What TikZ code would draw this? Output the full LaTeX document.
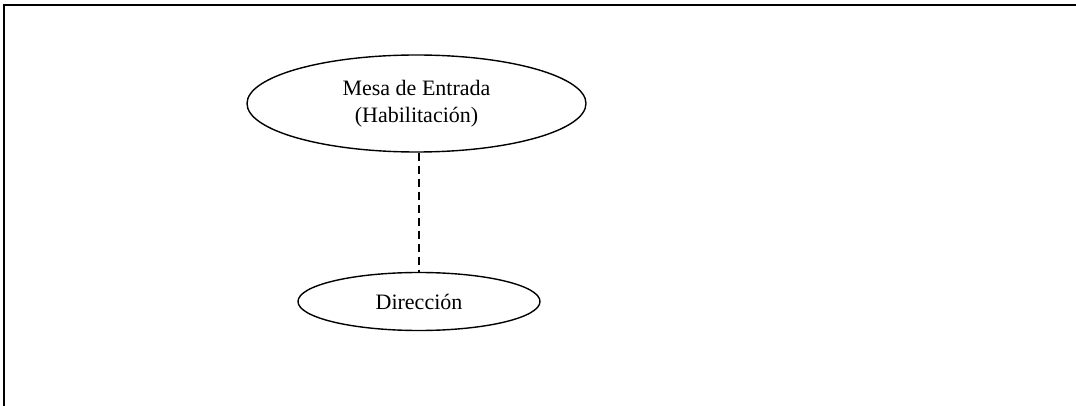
\documentclass[tikz,border=0pt]{standalone}
\usepackage{fontspec}
\setmainfont{Liberation Serif}
\usetikzlibrary{positioning,shapes.geometric}

\begin{document}
\begin{tikzpicture}[
  x=0.5pt, y=-0.5pt,
  office/.style={draw, ellipse, inner sep=0pt, line width=0.7pt, align=center, font=\fontsize{11}{13.5}\selectfont},
  link/.style={line width=0.7pt, dash pattern=on 4pt off 2.5pt}
]
\useasboundingbox (0,0) rectangle (1076,406);
\draw[line width=1pt] (1076,5) -- (4,5) -- (4,406);

\node[office, minimum width=169.5pt, minimum height=48.5pt] (mesa) at (416.5,103.5) {Mesa de Entrada\\(Habilitación)};
\node[office, minimum width=121pt, minimum height=29pt] (dir) at (419,301.5) {Dirección};

\draw[link] (mesa.south -| dir.north) -- (dir.north);
\end{tikzpicture}
\end{document}
